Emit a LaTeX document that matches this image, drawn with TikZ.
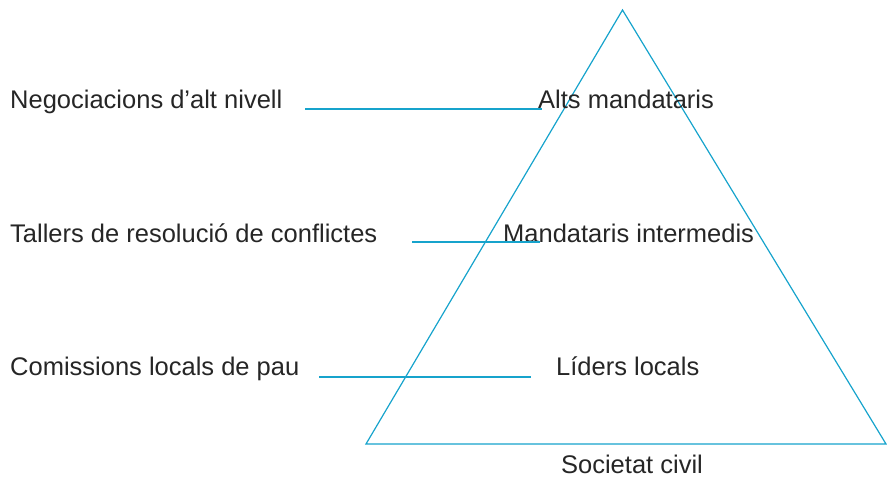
\documentclass[tikz,border=0pt]{standalone}
\usepackage{fontspec}
\setmainfont{Liberation Sans}
\definecolor{pyrblue}{RGB}{22,163,204}
\tikzset{
	levellabel/.style={inner sep=0pt, text=black!85, font=\fontsize{25.5}{30}\selectfont},
	levelline/.style={draw=pyrblue, line width=1.2pt}
}
\begin{document}
\begin{tikzpicture}[x=1pt, y=-1pt]
			\useasboundingbox (0,0) rectangle (887,478);
			% piramide
			\coordinate (apex) at (622.5,10);
			\coordinate (bl) at (366,444);
			\coordinate (br) at (886,444);
			\draw[levelline] (apex) -- (bl) -- (br) -- cycle;
			% etiquetes de l'esquerra
			\node[levellabel, anchor=base west] (neg) at (10,109) {Negociacions d’alt nivell};
			\node[levellabel, anchor=base west] (tal) at (10,243) {Tallers de resolució de conflictes};
			\node[levellabel, anchor=base west] (com) at (10,376) {Comissions locals de pau};
			% etiquetes de la piramide
			\node[levellabel, anchor=base west] (alts) at (538,109) {Alts mandataris};
			\node[levellabel, anchor=base west] (mit) at (503,243) {Mandataris intermedis};
			\node[levellabel, anchor=base west] (lid) at (556,376) {Líders locals};
			\node[levellabel, anchor=base] (soc) at (632,473) {Societat civil};
			% linies
			\foreach \n\xa\xb\y in {1/305/542/109,2/412/540/242,3/319/531/377}{
				\coordinate (l\n a) at (\xa,\y);
				\coordinate (l\n b) at (\xb,\y);
				\draw[levelline] (l\n a) -- (l\n b);
			}
		\end{tikzpicture}
\end{document}
